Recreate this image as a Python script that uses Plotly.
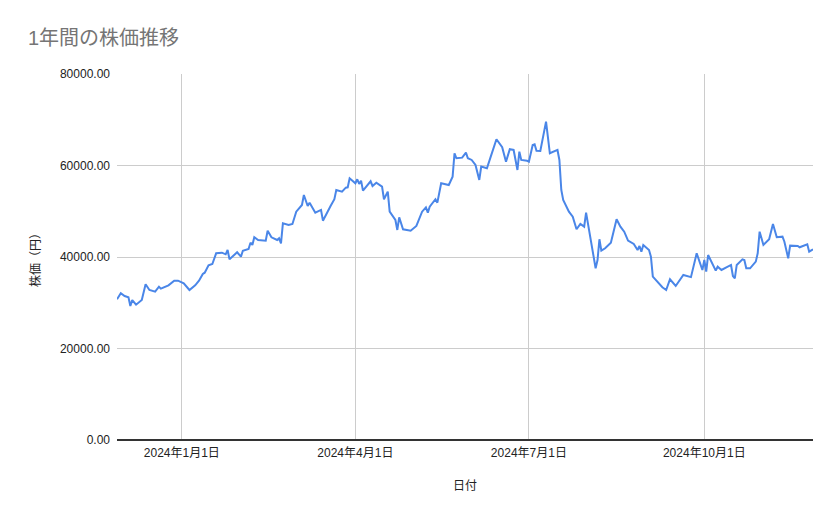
import plotly.graph_objects as go

dates = [
    "2023-11-28", "2023-11-30", "2023-12-02", "2023-12-04", "2023-12-05", "2023-12-06",
    "2023-12-08", "2023-12-11", "2023-12-13", "2023-12-15", "2023-12-18", "2023-12-20",
    "2023-12-21", "2023-12-25", "2023-12-28", "2023-12-30", "2024-01-02", "2024-01-05",
    "2024-01-08", "2024-01-10", "2024-01-12", "2024-01-13", "2024-01-15", "2024-01-17",
    "2024-01-19", "2024-01-22", "2024-01-24", "2024-01-25", "2024-01-26", "2024-01-30",
    "2024-02-01", "2024-02-02", "2024-02-05", "2024-02-06", "2024-02-07", "2024-02-08",
    "2024-02-10", "2024-02-14", "2024-02-15", "2024-02-17", "2024-02-20", "2024-02-21",
    "2024-02-22", "2024-02-23", "2024-02-26", "2024-02-28", "2024-03-01", "2024-03-04",
    "2024-03-05", "2024-03-07", "2024-03-08", "2024-03-11", "2024-03-14", "2024-03-15",
    "2024-03-19", "2024-03-21", "2024-03-22", "2024-03-25", "2024-03-27", "2024-03-28",
    "2024-03-29", "2024-04-01", "2024-04-02", "2024-04-03", "2024-04-04", "2024-04-05",
    "2024-04-09", "2024-04-10", "2024-04-12", "2024-04-15", "2024-04-16", "2024-04-18",
    "2024-04-19", "2024-04-22", "2024-04-23", "2024-04-24", "2024-04-26", "2024-04-30",
    "2024-05-03", "2024-05-06", "2024-05-08", "2024-05-09", "2024-05-10", "2024-05-13",
    "2024-05-14", "2024-05-16", "2024-05-20", "2024-05-22", "2024-05-23", "2024-05-24",
    "2024-05-27", "2024-05-29", "2024-05-30", "2024-06-01", "2024-06-03", "2024-06-05",
    "2024-06-06", "2024-06-09", "2024-06-11", "2024-06-14", "2024-06-17", "2024-06-19",
    "2024-06-21", "2024-06-23", "2024-06-25", "2024-06-26", "2024-06-27", "2024-06-30",
    "2024-07-01", "2024-07-03", "2024-07-04", "2024-07-05", "2024-07-07", "2024-07-10",
    "2024-07-12", "2024-07-16", "2024-07-17", "2024-07-18", "2024-07-19", "2024-07-22",
    "2024-07-24", "2024-07-26", "2024-07-28", "2024-07-30", "2024-07-31", "2024-08-02",
    "2024-08-05", "2024-08-06", "2024-08-07", "2024-08-08", "2024-08-10", "2024-08-13",
    "2024-08-14", "2024-08-16", "2024-08-18", "2024-08-20", "2024-08-22", "2024-08-25",
    "2024-08-27", "2024-08-28", "2024-08-29", "2024-08-30", "2024-09-02", "2024-09-03",
    "2024-09-04", "2024-09-07", "2024-09-09", "2024-09-11", "2024-09-13", "2024-09-16",
    "2024-09-20", "2024-09-24", "2024-09-27", "2024-09-30", "2024-10-01", "2024-10-02",
    "2024-10-03", "2024-10-07", "2024-10-08", "2024-10-10", "2024-10-15", "2024-10-16",
    "2024-10-17", "2024-10-18", "2024-10-21", "2024-10-22", "2024-10-23", "2024-10-25",
    "2024-10-28", "2024-10-29", "2024-10-30", "2024-11-01", "2024-11-04", "2024-11-06",
    "2024-11-08", "2024-11-11", "2024-11-12", "2024-11-14", "2024-11-15", "2024-11-19",
    "2024-11-20", "2024-11-24", "2024-11-25", "2024-11-27",
]

prices = [
    30760, 32070, 31480, 31190, 29290, 30600,
    29580, 30600, 34030, 32790, 32420, 33510,
    33080, 33810, 34820, 34820, 34250, 32790,
    33810, 34820, 36290, 36570, 38190, 38470,
    40810, 40950, 40590, 41530, 39500, 41030,
    40070, 41380, 41750, 43130, 42630, 44310,
    43720, 43570, 45750, 44310, 43720, 44090,
    43000, 47370, 47000, 47220, 49910, 51370,
    53560, 51150, 51880, 49690, 50280, 47940,
    51150, 52620, 54650, 54280, 55160, 55230,
    57200, 56110, 56990, 55960, 56690, 54500,
    56550, 55520, 56250, 55380, 52620, 54280,
    49910, 48090, 45910, 48680, 46060, 45750,
    46780, 49910, 50860, 49690, 51000, 52620,
    51880, 56110, 55740, 57560, 62670, 61580,
    61720, 62810, 61580, 61210, 60120, 56840,
    59760, 59390, 61940, 65730, 63980, 60840,
    63550, 63400, 59030, 63030, 61210, 61060,
    60840, 64490, 64640, 63240, 63180, 69580,
    62670, 63400, 61210, 54650, 52460, 49910,
    48820, 46060, 47220, 46630, 49690, 45180,
    37530, 39350, 43870, 41380, 41900, 43130,
    44810, 48240, 46630, 45530, 43570, 42850,
    41530, 42410, 41160, 42630, 41530, 40070,
    35700, 34250, 33380, 32790, 35130, 33670,
    36070, 35600, 40810, 37160, 39350, 36790,
    40440, 37010, 37880, 37160, 38260, 35850,
    35350, 38260, 39500, 39350, 37530, 37530,
    38990, 40810, 45530, 42630, 43870, 47220,
    44310, 44450, 43350, 39720, 42480, 42410,
    42120, 42780, 41160, 41680,
]

x_tick_vals = ["2024-01-01", "2024-04-01", "2024-07-01", "2024-10-01"]
x_tick_text = ["2024年1月1日", "2024年4月1日", "2024年7月1日", "2024年10月1日"]
y_tick_vals = [0, 20000, 40000, 60000, 80000]
y_tick_text = ["0.00", "20000.00", "40000.00", "60000.00", "80000.00"]

FONT = "Arial, 'Liberation Sans', 'Noto Sans CJK JP', sans-serif"

fig = go.Figure()
fig.add_trace(go.Scatter(
    x=dates, y=prices, mode="lines",
    line=dict(color="#4a86e8", width=2),
    showlegend=False,
))

fig.update_layout(
    width=831, height=511,
    margin=dict(l=109, r=26, t=66, b=79),
    paper_bgcolor="white", plot_bgcolor="white",
    font=dict(family=FONT, size=12, color="#222222"),
    title=dict(
        text="1年間の株価推移",
        x=20 / 831, xanchor="left", xref="container",
        y=1 - 30 / 511, yanchor="middle", yref="container",
        font=dict(family=FONT, size=20, color="#757575"),
    ),
    xaxis=dict(
        type="date",
        range=[dates[0], dates[-1]],
        tickvals=x_tick_vals, ticktext=x_tick_text,
        showgrid=True, gridcolor="#cccccc", gridwidth=1,
        showline=False, zeroline=False, ticks="",
        ticklabelstandoff=4,
        tickfont=dict(size=12, color="#222222"),
        title=dict(text="日付", font=dict(size=12, color="#222222"), standoff=22),
    ),
    yaxis=dict(
        range=[0, 80000],
        tickvals=y_tick_vals, ticktext=y_tick_text,
        showgrid=True, gridcolor="#cccccc", gridwidth=1,
        zeroline=True, zerolinecolor="#333333", zerolinewidth=1.5,
        showline=False, ticks="",
        ticklabelstandoff=6,
        tickfont=dict(size=12, color="#222222"),
        title=dict(text="株価（円）", font=dict(size=12, color="#222222"), standoff=16),
    ),
)

fig.write_html("out.html")
